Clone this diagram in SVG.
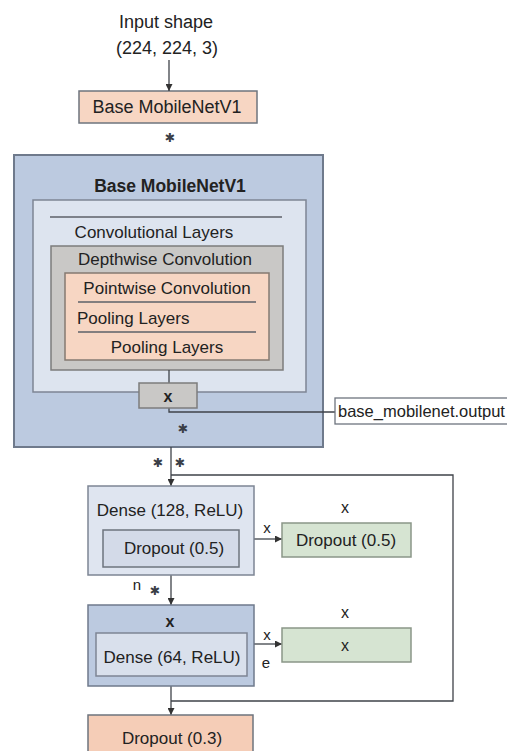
<svg xmlns="http://www.w3.org/2000/svg" width="507" height="751" viewBox="0 0 507 751">
<defs>
<marker id="ah" viewBox="0 0 10 10" refX="10" refY="5" markerWidth="7" markerHeight="7" orient="auto" markerUnits="userSpaceOnUse">
<path d="M0,0 L10,5 L0,10 z" fill="#333"/>
</marker>
<style>
text{font-family:"Liberation Sans",Arial,sans-serif;fill:#222;font-size:17px;text-anchor:middle;dominant-baseline:central}
.b{font-weight:bold}
.l{text-anchor:start}
.st{font-family:"DejaVu Sans",sans-serif;font-size:12.5px;fill:#3a3f47}
.box{stroke:#6e747e;stroke-width:1.5}
.peach{fill:#f7d6c3}
.outer{fill:#bccae0;stroke:#6f7a8c;stroke-width:2}
.inner{fill:#dde4ef;stroke:#7d8594;stroke-width:1.5}
.gray{fill:#c9c8c6;stroke:#7c7c7c;stroke-width:1.5}
.green{fill:#d6e4d2;stroke:#8a9688;stroke-width:1.5}
.conn{stroke:#3f4349;stroke-width:1.3;fill:none}
.sep{stroke:#5c6168;stroke-width:1.3}
</style>
</defs>
<rect width="507" height="751" fill="#ffffff"/>

<g id="input-label">
<text x="166" y="22" style="font-size:18px">Input shape</text>
<text x="167" y="48" style="font-size:18px">(224, 224, 3)</text>
</g>

<g id="base-top">
<rect x="79" y="91" width="178" height="32" class="box peach"/>
<text x="167" y="107" style="font-size:18px">Base MobileNetV1</text>
</g>
<text class="st" x="170" y="137">✱</text>

<g id="base-mobilenet">
<rect x="14" y="155" width="309" height="292" class="outer"/>
<text class="b" x="170" y="186" style="font-size:17.5px">Base MobileNetV1</text>
<rect x="33" y="200" width="273" height="192" class="inner"/>
<line x1="50" y1="217" x2="282" y2="217" class="sep"/>
<text x="154" y="232">Convolutional Layers</text>
<g id="depthwise">
<rect x="51" y="246" width="232" height="124" class="gray"/>
<text x="165" y="259">Depthwise Convolution</text>
</g>
<g id="pointwise">
<rect x="65" y="273" width="204" height="87" class="box peach" style="stroke:#857a72"/>
<text x="167" y="288">Pointwise Convolution</text>
<line x1="78" y1="302" x2="256" y2="302" class="sep"/>
<text class="l" x="77" y="318">Pooling Layers</text>
<line x1="78" y1="332" x2="256" y2="332" class="sep"/>
<text x="167" y="347">Pooling Layers</text>
</g>
</g>

<g id="connectors">
<line x1="169" y1="60" x2="169" y2="91" class="conn" marker-end="url(#ah)"/>
<line x1="169" y1="370" x2="169" y2="383" class="conn"/>
<polyline points="169,408 169,412 335,412" class="conn"/>
<line x1="171" y1="447" x2="171" y2="486" class="conn" marker-end="url(#ah)"/>
<polyline points="171,475 453,475 453,701 171,701" class="conn"/>
<line x1="171" y1="575" x2="171" y2="605" class="conn" marker-end="url(#ah)"/>
<line x1="171" y1="686" x2="171" y2="715" class="conn" marker-end="url(#ah)"/>
<line x1="254" y1="539" x2="282" y2="539" class="conn" marker-end="url(#ah)"/>
<line x1="254" y1="644" x2="282" y2="644" class="conn" marker-end="url(#ah)"/>
</g>

<g id="x-node">
<rect x="139" y="383" width="58" height="25" class="gray"/>
<text class="b" x="168" y="396" style="font-size:16px">x</text>
</g>
<text class="st" x="183" y="428">✱</text>

<g id="output-label">
<rect x="335" y="398" width="180" height="26" fill="#ffffff" stroke="#6e747e" stroke-width="1.3"/>
<text class="l" x="338" y="411" style="font-size:16.5px">base_mobilenet.output</text>
</g>

<text class="st" x="158" y="462">✱</text>
<text class="st" x="180" y="462">✱</text>

<g id="dense128">
<rect x="88" y="486" width="166" height="89" class="inner" style="fill:#dfe5f0"/>
<text x="170" y="510">Dense (128, ReLU)</text>
<rect x="103" y="530" width="136" height="37" class="box" style="fill:#d3dae8"/>
<text x="174" y="548">Dropout (0.5)</text>
</g>
<text x="267" y="527" style="font-size:15px">x</text>
<g id="dropout-green1">
<rect x="282" y="523" width="129" height="34" class="green"/>
<text x="346" y="540">Dropout (0.5)</text>
</g>
<text x="345" y="507" style="font-size:16px">x</text>

<text x="137" y="584" style="font-size:15px">n</text>
<text class="st" x="155" y="590">✱</text>

<g id="dense64">
<rect x="88" y="605" width="166" height="81" class="outer" style="stroke-width:1.5"/>
<text class="b" x="170" y="621" style="font-size:16px">x</text>
<rect x="96" y="633" width="151" height="43" class="inner" style="fill:#d9e0ec"/>
<text x="172" y="657">Dense (64, ReLU)</text>
</g>
<text x="267" y="634" style="font-size:15px">x</text>
<text x="266" y="662" style="font-size:15px">e</text>
<g id="green2">
<rect x="282" y="628" width="129" height="34" class="green"/>
<text x="345" y="645" style="font-size:16px">x</text>
</g>
<text x="345" y="612" style="font-size:16px">x</text>

<g id="dropout03">
<rect x="88" y="715" width="165" height="45" class="box" style="fill:#f5cdb7"/>
<text x="172" y="738">Dropout (0.3)</text>
</g>
</svg>
